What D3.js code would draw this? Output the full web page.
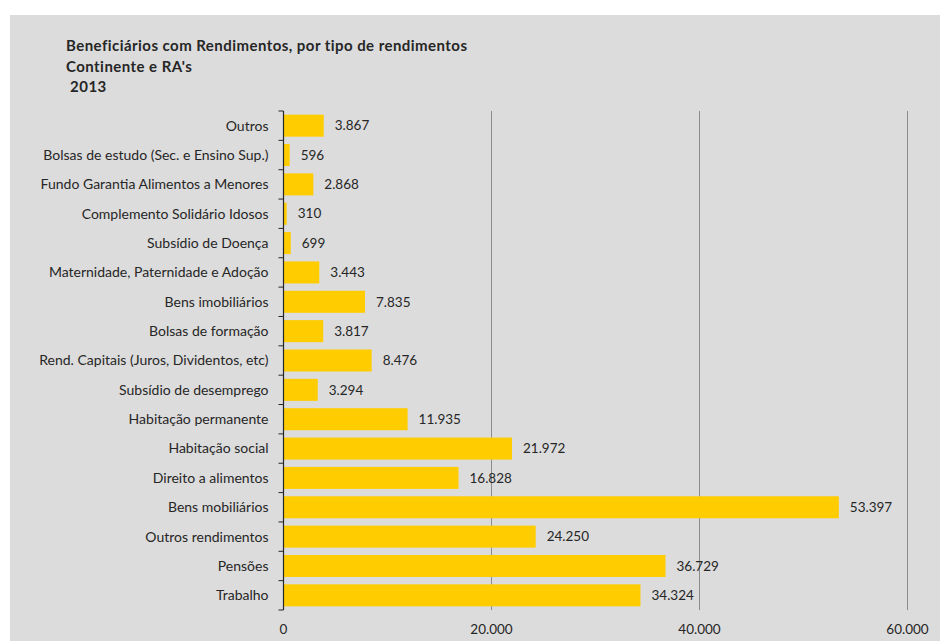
<!DOCTYPE html>
<html>
<head>
<meta charset="utf-8">
<script src="https://cdn.jsdelivr.net/npm/d3@7"></script>
<style>
  html, body { margin: 0; padding: 0; background: #ffffff; }
  svg { display: block; }
  text { font-family: Lato, "Open Sans", sans-serif; fill: #262626; }
</style>
</head>
<body>
<svg id="chart" width="940" height="642"></svg>
<script>
// Beneficiários por tipo de rendimento, 2013
const categories = [
  "Outros",
  "Bolsas de estudo (Sec. e Ensino Sup.)",
  "Fundo Garantia Alimentos a Menores",
  "Complemento Solidário Idosos",
  "Subsídio de Doença",
  "Maternidade, Paternidade e Adoção",
  "Bens imobiliários",
  "Bolsas de formação",
  "Rend. Capitais (Juros, Dividentos, etc)",
  "Subsídio de desemprego",
  "Habitação permanente",
  "Habitação social",
  "Direito a alimentos",
  "Bens mobiliários",
  "Outros rendimentos",
  "Pensões",
  "Trabalho"
];
const values = [3867, 596, 2868, 310, 699, 3443, 7835, 3817, 8476, 3294, 11935, 21972, 16828, 53397, 24250, 36729, 34324];
const xTicks = [0, 20000, 40000, 60000];
const titleLines = ["Beneficiários com Rendimentos, por tipo de rendimentos", "Continente e RA's", " 2013"];

const svg = d3.select("#chart");
const W = 940, H = 642;

// chart area background
svg.append("rect")
  .attr("x", 10).attr("y", 15)
  .attr("width", W - 10).attr("height", H - 16)
  .attr("fill", "#dcdcdc");

// title
const title = svg.append("text")
  .attr("x", 66).attr("y", 51)
  .style("font-size", "15px")
  .style("letter-spacing", "0.45px")
  .style("font-weight", "bold");
titleLines.forEach((t, i) => {
  title.append("tspan")
    .attr("x", 66)
    .attr("dy", i === 0 ? 0 : 20.5)
    .attr("xml:space", "preserve")
    .text(t);
});

const plotLeft = 283.5, plotRight = 907.5, plotTop = 111, plotBottom = 610;
const fmt = v => d3.format(",")(v).replace(/,/g, ".");

const x = d3.scaleLinear().domain([0, 60000]).range([plotLeft, plotRight]);
const y = d3.scaleBand().domain(categories).range([plotTop, plotBottom]).paddingInner(0.25).paddingOuter(0.125);

// vertical gridlines
svg.append("g")
  .selectAll("line")
  .data(xTicks.filter(d => d > 0))
  .join("line")
  .attr("x1", d => x(d)).attr("x2", d => x(d))
  .attr("y1", plotTop).attr("y2", plotBottom)
  .attr("stroke", "#8c8c8c")
  .attr("stroke-width", 1);

// bars
svg.append("g")
  .selectAll("rect")
  .data(values)
  .join("rect")
  .attr("x", x(0))
  .attr("y", (d, i) => y(categories[i]))
  .attr("width", d => x(d) - x(0))
  .attr("height", y.bandwidth())
  .attr("fill", "#ffcc00");

// value labels
svg.append("g")
  .selectAll("text")
  .data(values)
  .join("text")
  .attr("x", d => x(d) + 11)
  .attr("y", (d, i) => y(categories[i]) + y.bandwidth() / 2)
  .attr("dy", "0.35em")
  .style("font-size", "13.5px")
  .text(d => fmt(d));

// category axis with boundary ticks
const yAxis = svg.append("g");
yAxis.append("line")
  .attr("x1", plotLeft).attr("x2", plotLeft)
  .attr("y1", plotTop).attr("y2", plotBottom)
  .attr("stroke", "#262626").attr("stroke-width", 1.2);
const bounds = d3.range(categories.length + 1).map(i => plotTop + i * y.step());
yAxis.selectAll("line.tick")
  .data(bounds)
  .join("line")
  .attr("class", "tick")
  .attr("x1", plotLeft - 5).attr("x2", plotLeft)
  .attr("y1", d => d).attr("y2", d => d)
  .attr("stroke", "#262626").attr("stroke-width", 1);
yAxis.selectAll("text")
  .data(categories)
  .join("text")
  .attr("x", plotLeft - 15)
  .attr("y", d => y(d) + y.bandwidth() / 2)
  .attr("dy", "0.35em")
  .attr("text-anchor", "end")
  .style("font-size", "14px")
  .text(d => d);

// value axis labels
svg.append("g")
  .selectAll("text")
  .data(xTicks)
  .join("text")
  .attr("x", d => x(d))
  .attr("y", 629)
  .attr("dy", "0.35em")
  .attr("text-anchor", "middle")
  .style("font-size", "13.5px")
  .text(d => fmt(d));
</script>
</body>
</html>
